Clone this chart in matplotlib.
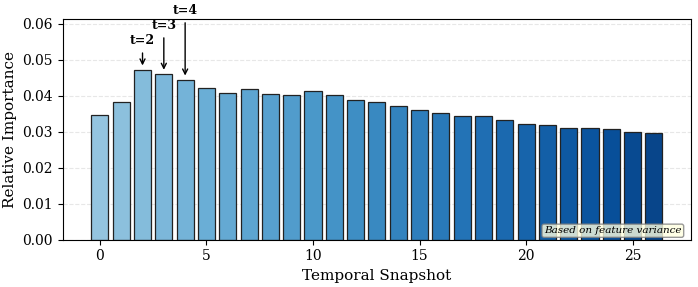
import matplotlib
matplotlib.use("Agg")
import matplotlib.pyplot as plt
import numpy as np

snapshots = list(range(27))
importance = [0.0346, 0.0381, 0.0472, 0.0460, 0.0444, 0.0421, 0.0407, 0.0417,
              0.0404, 0.0403, 0.0412, 0.0402, 0.0388, 0.0381, 0.0371, 0.0359,
              0.0352, 0.0344, 0.0342, 0.0331, 0.0320, 0.0318, 0.0311, 0.0311,
              0.0306, 0.0300, 0.0297]
highlight = [2, 3, 4]
highlight_labels = ["t=2", "t=3", "t=4"]
note = "Based on feature variance"

plt.rcParams['font.family'] = ['DejaVu Serif']

fig, ax = plt.subplots(figsize=(6.98, 2.87), dpi=100)
colors = plt.cm.Blues(np.linspace(0.4, 0.92, len(snapshots)))
ax.bar(snapshots, importance, color=colors, edgecolor='#222222', linewidth=0.9)

ax.set_ylim(0, max(importance) * 1.3)
ax.set_xlabel('Temporal Snapshot', fontsize=11)
ax.set_ylabel('Relative Importance', fontsize=11)
ax.grid(axis='y', linestyle='--', alpha=0.3)
ax.set_axisbelow(True)

offsets = [16, 30, 45]
for idx, lab, off in zip(highlight, highlight_labels, offsets):
    ax.annotate(lab, xy=(idx, importance[idx]), xytext=(0, off),
                textcoords='offset points', ha='center', va='bottom',
                fontsize=9, fontweight='bold', annotation_clip=False,
                arrowprops=dict(arrowstyle='->', color='black', lw=1, shrinkA=2, shrinkB=3))

ax.text(0.985, 0.02, note, transform=ax.transAxes, ha='right', va='bottom',
        fontsize=7.5, style='italic',
        bbox=dict(boxstyle='round,pad=0.2', facecolor='lightyellow', edgecolor='gray', alpha=0.8))

fig.subplots_adjust(left=0.09, right=0.99, top=0.935, bottom=0.165)
fig.savefig('out.png', dpi=100)
